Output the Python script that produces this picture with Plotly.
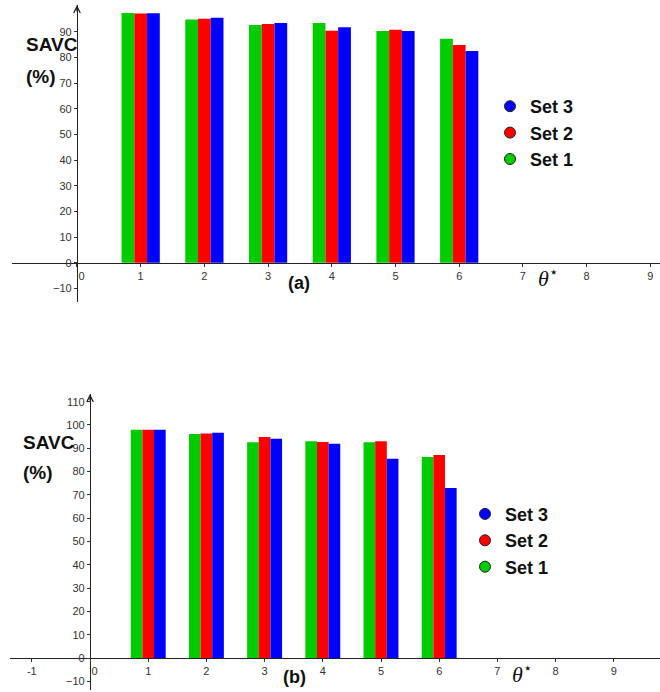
import plotly.graph_objects as go

W, H = 660, 692

# ---------------- data ----------------
theta = [1, 2, 3, 4, 5, 6]
set_names = ["Set 1", "Set 2", "Set 3"]
set_colors = ["#00cc00", "#ff0000", "#0000ff"]

savc_a_set1 = [97.4, 94.8, 92.7, 93.5, 90.4, 87.3]
savc_a_set2 = [97.2, 95.1, 93.1, 90.5, 90.8, 84.9]
savc_a_set3 = [97.3, 95.5, 93.5, 91.8, 90.4, 82.6]

savc_b_set1 = [98.0, 96.1, 92.6, 93.0, 92.6, 86.3]
savc_b_set2 = [98.0, 96.4, 94.8, 92.7, 93.0, 87.1]
savc_b_set3 = [98.0, 96.7, 94.1, 92.0, 85.5, 73.0]

xticks_a = [0, 1, 2, 3, 4, 5, 6, 7, 8, 9]
xticks_b = [-1, 0, 1, 2, 3, 4, 5, 6, 7, 8, 9]
yticks_a = [-10, 0, 10, 20, 30, 40, 50, 60, 70, 80, 90]
yticks_b = [-10, 0, 10, 20, 30, 40, 50, 60, 70, 80, 90, 100, 110]

panels = [
    dict(vals=[savc_a_set1, savc_a_set2, savc_a_set3], xa="x", ya="y", leg="legend"),
    dict(vals=[savc_b_set1, savc_b_set2, savc_b_set3], xa="x2", ya="y2", leg="legend2"),
]
offsets = [-0.3, -0.1, 0.1]

fig = go.Figure()
for p in panels:
    for i in range(3):
        fig.add_trace(go.Bar(
            x=theta, y=p["vals"][i], width=0.2, offset=offsets[i],
            marker=dict(color=set_colors[i], line=dict(width=0)),
            xaxis=p["xa"], yaxis=p["ya"], showlegend=False,
        ))
    for i in [2, 1, 0]:
        fig.add_trace(go.Scatter(
            x=[None], y=[None], mode="markers", name=set_names[i],
            marker=dict(symbol="circle", size=11, color=set_colors[i],
                        line=dict(color="#222222", width=1)),
            xaxis=p["xa"], yaxis=p["ya"], legend=p["leg"],
        ))

def px_x(px):
    return px / W

def px_y(py):
    return 1 - py / H

tickfont = dict(family="Liberation Sans, Arial", size=11, color="#333333")
axis_common = dict(showgrid=False, zeroline=False, showline=True,
                   linecolor="#222222", linewidth=1.3, ticks="outside",
                   ticklen=3, tickcolor="#333333", tickwidth=1,
                   tickfont=tickfont, anchor="free", fixedrange=True)

def xtext(vals):
    return ["\u00a0\u00a0\u00a00" if v == 0 else str(v) for v in vals]

fig.update_layout(
    width=W, height=H,
    margin=dict(l=0, r=0, t=0, b=0),
    paper_bgcolor="white", plot_bgcolor="white",
    showlegend=True,
    xaxis=dict(**axis_common, domain=[px_x(12), 1.0], range=[-1.02, 9.152],
               position=px_y(262.7), tickvals=xticks_a, ticktext=xtext(xticks_a)),
    yaxis=dict(**axis_common, domain=[px_y(301.7), px_y(5)], range=[-15.2, 100.5],
               position=px_x(77), tickvals=yticks_a),
    xaxis2=dict(**axis_common, domain=[px_x(10), 1.0], range=[-1.375, 9.794],
                position=px_y(658), tickvals=xticks_b, ticktext=xtext(xticks_b)),
    yaxis2=dict(**axis_common, domain=[px_y(690), px_y(394)], range=[-13.73, 113.3],
                position=px_x(90), tickvals=yticks_b),
    legend=dict(x=px_x(490), y=px_y(133), xanchor="left", yanchor="middle",
                bgcolor="rgba(0,0,0,0)",
                font=dict(family="Liberation Sans, Arial", size=18, color="#111111", weight="bold")),
    legend2=dict(x=px_x(465), y=px_y(540.7), xanchor="left", yanchor="middle",
                 bgcolor="rgba(0,0,0,0)",
                 font=dict(family="Liberation Sans, Arial", size=18, color="#111111", weight="bold")),
)

labfont = dict(family="Liberation Sans, Arial", size=19, color="#111111", weight="bold")
thfont = dict(family="Liberation Serif, DejaVu Serif", size=22, color="#111111")

texts = [
    ("SAVC", 24, 44, "left", labfont),
    ("(%)", 24, 76, "left", labfont),
    ("SAVC", 21, 442, "left", labfont),
    ("(%)", 21, 473, "left", labfont),
    ("(a)", 299, 283, "center", dict(labfont, size=18)),
    ("(b)", 294, 677, "center", dict(labfont, size=18)),
    ("<i>θ</i><sup>⋆</sup>", 548, 277, "center", thfont),
    ("<i>θ</i><sup>⋆</sup>", 522, 673, "center", thfont),
]
for t, x, y, anc, f in texts:
    fig.add_annotation(text=t, x=px_x(x), y=px_y(y), xref="paper", yref="paper",
                       xanchor=anc, yanchor="middle", showarrow=False, font=f)

# arrows on top of the y axes
fig.add_annotation(x=0, y=100.5, xref="x", yref="y", ax=0, ay=8, text="",
                   showarrow=True, arrowhead=5, arrowsize=1, arrowwidth=1.3,
                   arrowcolor="#222222")
fig.add_annotation(x=0, y=113.3, xref="x2", yref="y2", ax=0, ay=8, text="",
                   showarrow=True, arrowhead=5, arrowsize=1, arrowwidth=1.3,
                   arrowcolor="#222222")

fig.write_html("out.html",
               config={"displayModeBar": False},
               post_script="document.body.style.margin='0';document.body.style.overflow='hidden';")
